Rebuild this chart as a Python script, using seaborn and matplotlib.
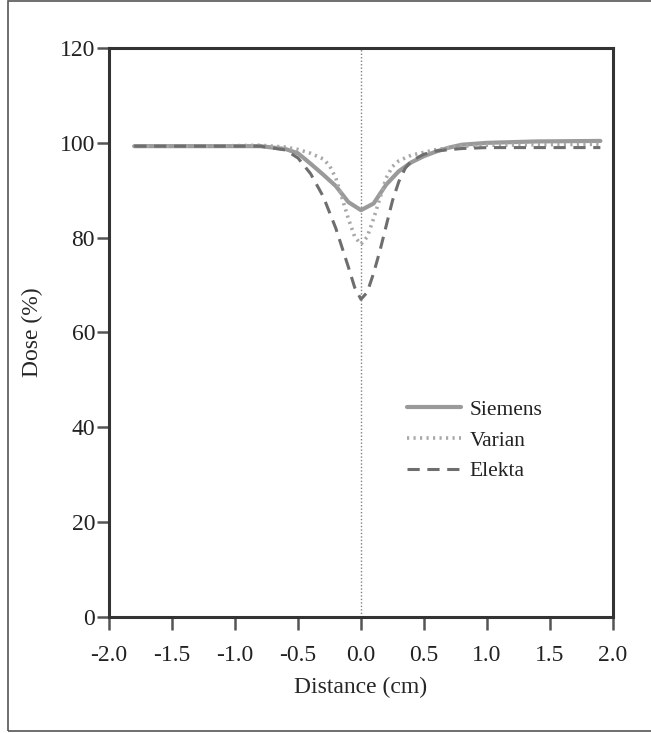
import matplotlib
matplotlib.use("Agg")
import matplotlib.pyplot as plt
import seaborn as sns
import pandas as pd
from matplotlib.patches import Rectangle

siemens_x = [-1.8, -1.2, -0.8, -0.6, -0.5, -0.4, -0.3, -0.2, -0.1, 0.0, 0.1, 0.2, 0.3, 0.4, 0.5, 0.6, 0.7, 0.8, 1.0, 1.4, 1.9]
siemens_y = [99.3, 99.3, 99.3, 98.7, 97.8, 95.6, 93.3, 90.9, 87.5, 85.8, 87.2, 91.2, 94.0, 95.9, 97.2, 98.2, 99.0, 99.6, 100.0, 100.3, 100.4]

varian_x = [-1.8, -1.2, -0.8, -0.6, -0.5, -0.4, -0.3, -0.25, -0.2, -0.15, -0.1, -0.05, 0.0, 0.05, 0.1, 0.15, 0.2, 0.25, 0.3, 0.4, 0.5, 0.6, 0.8, 1.0, 1.4, 1.9]
varian_y = [99.3, 99.3, 99.5, 99.1, 98.6, 97.8, 96.6, 95.2, 92.6, 88.3, 84.0, 80.2, 78.6, 80.2, 84.0, 88.3, 92.6, 95.0, 96.2, 97.4, 98.0, 98.6, 99.3, 99.5, 99.6, 99.7]

elekta_x = [-1.8, -1.2, -0.8, -0.6, -0.5, -0.4, -0.3, -0.2, -0.1, -0.05, 0.0, 0.05, 0.1, 0.15, 0.2, 0.25, 0.3, 0.35, 0.4, 0.5, 0.6, 0.8, 1.0, 1.4, 1.9]
elekta_y = [99.3, 99.3, 99.3, 98.5, 96.8, 93.5, 88.7, 82.0, 73.8, 69.5, 67.0, 68.5, 72.5, 77.2, 82.5, 87.8, 91.8, 94.6, 96.2, 97.6, 98.3, 98.8, 99.0, 99.0, 99.0]

series_names = ["Siemens", "Varian", "Elekta"]
x_ticks = [-2.0, -1.5, -1.0, -0.5, 0.0, 0.5, 1.0, 1.5, 2.0]
y_ticks = [0, 20, 40, 60, 80, 100, 120]

frames = []
for name, xs, ys in zip(series_names, [siemens_x, varian_x, elekta_x], [siemens_y, varian_y, elekta_y]):
    frames.append(pd.DataFrame({"Distance": xs, "Dose": ys, "Machine": name}))
df = pd.concat(frames, ignore_index=True)

sns.set_style("white")
plt.rcParams["font.family"] = ["Liberation Serif", "DejaVu Serif"]

fig = plt.figure(figsize=(6.51, 7.33), dpi=100)
ax = fig.add_axes([0.1674, 0.1583, 0.7742, 0.7762])

palette = {"Siemens": "#9a9a9a", "Varian": "#a8a8a8", "Elekta": "#6e6e6e"}
dashes = {"Siemens": "", "Varian": (0.6, 1.2), "Elekta": (4, 2.5)}
sizes = {"Siemens": 3.0, "Varian": 2.6, "Elekta": 2.2}

ax.axvline(0, color="#808080", lw=1.0, ls=(0, (1, 1.5)), zorder=1)

sns.lineplot(data=df, x="Distance", y="Dose", hue="Machine", style="Machine",
             size="Machine", sizes=sizes, palette=palette, dashes=dashes,
             hue_order=series_names, style_order=series_names, size_order=series_names,
             ax=ax, sort=False, estimator=None, zorder=3)

ax.set_xlim(-2.0, 2.0)
ax.set_ylim(0, 120)
ax.set_xticks(x_ticks)
ax.set_xticklabels([f"{v:.1f}" for v in x_ticks])
ax.set_yticks(y_ticks)
ax.set_xlabel("Distance (cm)", fontsize=17, labelpad=8)
ax.set_ylabel("Dose (%)", fontsize=17, labelpad=12)

for side in ["left", "bottom", "top", "right"]:
    ax.spines[side].set_visible(True)
    ax.spines[side].set_color("#333333")
    ax.spines[side].set_linewidth(2.2)

ax.tick_params(axis="both", which="major", direction="out", length=9, width=1.8,
               color="#555555", labelsize=17, labelcolor="#222222", pad=1,
               bottom=True, left=True)
ax.tick_params(axis="x", pad=11)

leg = ax.legend(loc="center left", bbox_to_anchor=(0.553, 0.31), frameon=False,
                fontsize=15.5, handlelength=2.5, labelspacing=0.5, handletextpad=0.4)
for t in leg.get_texts():
    t.set_color("#222222")

fig.patches.append(Rectangle((0.013, 0.003), 1.2, 0.995, transform=fig.transFigure,
                             fill=False, edgecolor="#555555", linewidth=1.2))

fig.savefig("out.png", dpi=100)
